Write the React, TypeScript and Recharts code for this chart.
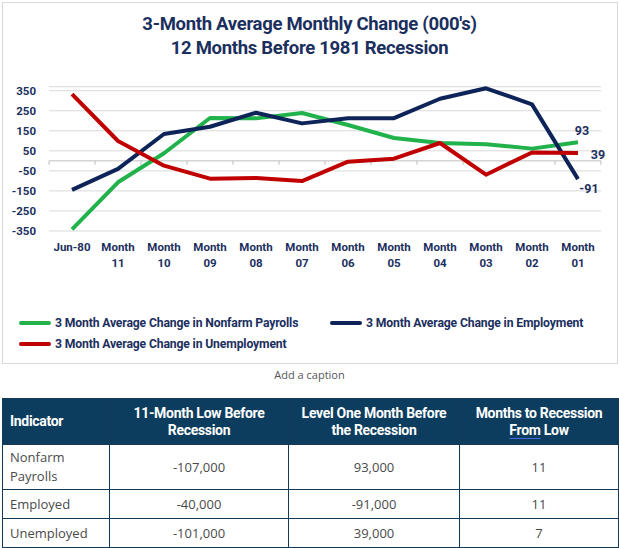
import React from 'react';
import { LineChart, Line, XAxis, YAxis, CartesianGrid, ReferenceLine, LabelList } from 'recharts';

const categories = ['Jun-80', 'Month 11', 'Month 10', 'Month 09', 'Month 08', 'Month 07', 'Month 06', 'Month 05', 'Month 04', 'Month 03', 'Month 02', 'Month 01'];
const nonfarmPayrolls = [-342, -107, 38, 214, 212, 239, 179, 114, 89, 83, 61, 93];
const employment = [-145, -40, 134, 170, 240, 187, 213, 213, 310, 362, 282, -91];
const unemployment = [333, 99, -24, -89, -86, -101, -4, 11, 89, -69, 42, 39];
const yTicks = [-350, -250, -150, -50, 50, 150, 250, 350];

const seriesNames = {
  payrolls: '3 Month Average Change in Nonfarm Payrolls',
  employment: '3 Month Average Change in Employment',
  unemployment: '3 Month Average Change in Unemployment',
};

const tableHeader = ['Indicator', '11-Month Low Before Recession', 'Level One Month Before the Recession', 'Months to Recession From Low'];
const tableIndicators = ['Nonfarm Payrolls', 'Employed', 'Unemployed'];
const tableLows = ['-107,000', '-40,000', '-101,000'];
const tableLevels = ['93,000', '-91,000', '39,000'];
const tableMonths = ['11', '11', '7'];

const data = categories.map((c, i) => ({
  cat: c,
  payrolls: nonfarmPayrolls[i],
  employment: employment[i],
  unemployment: unemployment[i],
}));

const NAVY = '#1b2f5e';
const GREEN = '#22b24c';
const DARK = '#0e2458';
const RED = '#c00000';
const FONT = '"Roboto", "Liberation Sans", sans-serif';

const XTick = (props: any) => {
  const { x, y, payload } = props;
  const parts = String(payload.value).split(' ');
  return (
    <text x={x} y={y + 12} textAnchor="middle" fill={NAVY} fontFamily={FONT} fontWeight={700} fontSize={11.5}>
      {parts.map((p, i) => (
        <tspan key={i} x={x} dy={i === 0 ? 0 : 16}>{p}</tspan>
      ))}
    </text>
  );
};

const ZeroAxis = (props: any) => {
  const { x1, y1, x2 } = props;
  const n = categories.length;
  const step = (x2 - x1) / n;
  const marks = [];
  for (let k = 0; k <= n; k++) {
    const xx = x1 + k * step;
    marks.push(<line key={k} x1={xx} x2={xx} y1={y1} y2={y1 + 4} stroke="#bfbfbf" strokeWidth={1} />);
  }
  return (
    <g>
      <line x1={x1} x2={x2} y1={y1} y2={y1} stroke="#bfbfbf" strokeWidth={1} />
      {marks}
    </g>
  );
};

const lastLabel = (dx: number, dy: number) => (props: any) => {
  const { x, y, value, index } = props;
  if (index !== categories.length - 1) return null;
  return (
    <text x={x + dx} y={y + dy} textAnchor="middle" dominantBaseline="central" fill={NAVY} fontFamily={FONT} fontWeight={700} fontSize={12.5}>
      {value}
    </text>
  );
};

const LegendBlock = () => {
  const item = (color: string, label: string, left: number, top: number) => (
    <div style={{ position: 'absolute', left, top, display: 'flex', alignItems: 'center', whiteSpace: 'nowrap' }}>
      <div style={{ width: 32, height: 4, borderRadius: 2, background: color, marginRight: 4 }} />
      <span style={{ color: NAVY, fontFamily: FONT, fontWeight: 700, fontSize: 12.2, letterSpacing: -0.15 }}>{label}</span>
    </div>
  );
  return (
    <div style={{ position: 'absolute', left: 0, top: 316, width: 619, height: 40 }}>
      {item(GREEN, seriesNames.payrolls, 19, 0)}
      {item(DARK, seriesNames.employment, 330, 0)}
      {item(RED, seriesNames.unemployment, 19, 21)}
    </div>
  );
};

const cellBase: React.CSSProperties = {
  border: '1px solid #143a5a',
  fontFamily: '"Open Sans", "Noto Sans", sans-serif',
  fontSize: 13,
  color: '#4a4a4a',
  textAlign: 'center',
  padding: '0 6px',
};

export default function App() {
  return (
    <div style={{ position: 'absolute', left: 0, top: 0, width: 619, height: 548, background: '#fff', overflow: 'hidden' }}>
      <div style={{ position: 'absolute', left: 2, top: 2, width: 614, height: 360, border: '1px solid #d9d9d9' }} />
      <div style={{ position: 'absolute', left: 0, top: 12, width: 619, textAlign: 'center', color: NAVY, fontFamily: FONT, fontWeight: 700, fontSize: 18.5, lineHeight: '24px', letterSpacing: -0.3 }}>
        <div>3-Month Average Monthly Change (000's)</div>
        <div>12 Months Before 1981 Recession</div>
      </div>
      <div style={{ position: 'absolute', left: 0, top: 0 }}>
        <LineChart width={619} height={365} data={data} margin={{ top: 86.7, right: 18, bottom: 74, left: 0 }}>
          <CartesianGrid vertical={false} stroke="#d9d9d9" strokeWidth={1} />
          <XAxis dataKey="cat" axisLine={false} tickLine={false} interval={0} padding={{ left: 23, right: 23 }} height={60} tick={<XTick />} />
          <YAxis type="number" domain={[-350, 370]} ticks={yTicks} interval={0} width={49} axisLine={false} tickLine={false} tickSize={6} tickMargin={7}
            tick={{ fill: NAVY, fontFamily: FONT, fontWeight: 700, fontSize: 11.5 }} />
          <ReferenceLine y={0} stroke="#bfbfbf" strokeWidth={1} shape={(p: any) => <ZeroAxis {...p} />} />
          <Line dataKey="payrolls" name={seriesNames.payrolls} stroke={GREEN} strokeWidth={4} dot={false} isAnimationActive={false} strokeLinejoin="round">
            <LabelList dataKey="payrolls" content={lastLabel(4, -12)} />
          </Line>
          <Line dataKey="employment" name={seriesNames.employment} stroke={DARK} strokeWidth={4} dot={false} isAnimationActive={false} strokeLinejoin="round">
            <LabelList dataKey="employment" content={lastLabel(11, 9)} />
          </Line>
          <Line dataKey="unemployment" name={seriesNames.unemployment} stroke={RED} strokeWidth={4} dot={false} isAnimationActive={false} strokeLinejoin="round">
            <LabelList dataKey="unemployment" content={lastLabel(20, 1)} />
          </Line>
        </LineChart>
      </div>
      <LegendBlock />
      <div style={{ position: 'absolute', left: 0, top: 367, width: 619, textAlign: 'center', fontFamily: '"Open Sans", sans-serif', fontSize: 11, color: '#555' }}>
        Add a caption
      </div>
      <table style={{ position: 'absolute', left: 2, top: 398, width: 616, borderCollapse: 'collapse', tableLayout: 'fixed' }}>
        <colgroup>
          <col style={{ width: 107 }} />
          <col style={{ width: 179 }} />
          <col style={{ width: 171 }} />
          <col style={{ width: 159 }} />
        </colgroup>
        <thead>
          <tr style={{ height: 46, background: '#0c3d5e' }}>
            {tableHeader.map((h, i) => (
              <th key={i} style={{ ...cellBase, color: '#fff', fontFamily: FONT, fontWeight: 700, fontSize: 14, lineHeight: '17px', letterSpacing: -0.3, textAlign: i === 0 ? 'left' : 'center', padding: i === 0 ? '0 7px' : '0 12px' }}>
                {i === 3 ? (<>Months to Recession <span style={{ textDecoration: 'underline', textDecorationColor: '#4169e1', textUnderlineOffset: 3 }}>From</span> Low</>) : h}
              </th>
            ))}
          </tr>
        </thead>
        <tbody>
          {tableIndicators.map((ind, r) => (
            <tr key={r} style={{ height: r === 0 ? 45 : 29 }}>
              <td style={{ ...cellBase, textAlign: 'left', padding: '0 7px', lineHeight: '19px' }}>{ind}</td>
              <td style={cellBase}>{tableLows[r]}</td>
              <td style={cellBase}>{tableLevels[r]}</td>
              <td style={cellBase}>{tableMonths[r]}</td>
            </tr>
          ))}
        </tbody>
      </table>
    </div>
  );
}
